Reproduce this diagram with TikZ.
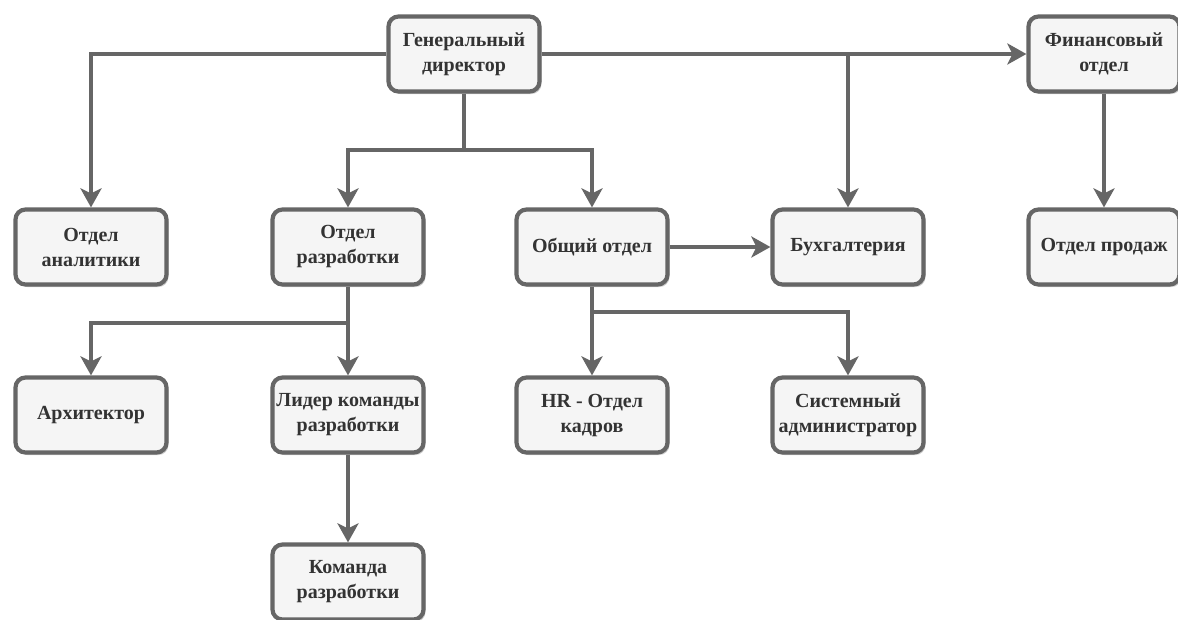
\documentclass[tikz,border=0pt]{standalone}
\usepackage{fontspec}
\setmainfont{Liberation Serif}
\usetikzlibrary{arrows.meta,shadows}
\definecolor{linec}{HTML}{666666}
\definecolor{boxfill}{HTML}{F5F5F5}
\definecolor{textc}{HTML}{333333}
\begin{document}
\begin{tikzpicture}[x=1pt,y=-1pt,
  box/.style={draw=linec, line width=4.2pt, fill=boxfill, rounded corners=10pt,
    minimum width=151pt, minimum height=75pt, inner sep=1pt, align=center,
    font=\bfseries\fontsize{20}{25}\selectfont, text=textc,
    drop shadow={opacity=0.2, shadow xshift=2pt, shadow yshift=-2.5pt, fill=black}},
  conn/.style={draw=linec, line width=3.8pt,
    -{Stealth[length=19pt,width=21pt,inset=5pt]}}]
\clip (0,0) rectangle (1178,619);
\fill[white] (0,0) rectangle (1178,619);

\node[box] (gd)   at (464,54)  {Генеральный\\директор};
\node[box] (fin)  at (1104,54) {Финансовый\\отдел};
\node[box] (anal) at (91,247)  {Отдел\\аналитики};
\node[box] (razr) at (348,247) {Отдел\\разработки};
\node[box] (obsh) at (592,247) {Общий отдел};
\node[box] (buh)  at (848,247) {Бухгалтерия};
\node[box] (prod) at (1104,247) {Отдел продаж};
\node[box] (arch) at (91,415)  {Архитектор};
\node[box] (lider) at (348,415) {Лидер команды\\разработки};
\node[box] (hr)   at (592,415) {HR - Отдел\\кадров};
\node[box] (sys)  at (848,415) {Системный\\администратор};
\node[box] (kom)  at (348,582) {Команда\\разработки};

\coordinate (j1) at (464,150);
\coordinate (j2) at (348,323);
\coordinate (j3) at (592,312);

\draw[conn] (gd.west) -| (anal.north);
\draw[conn] (gd.south) -- (j1) -| (razr.north);
\draw[conn] (j1) -| (obsh.north);
\draw[conn] (gd.east) -- (fin.west);
\draw[conn] (gd.east) -| (buh.north);
\draw[conn] (fin.south) -- (prod.north);
\draw[conn] (obsh.east) -- (buh.west);
\draw[conn] (razr.south) -- (j2) -| (arch.north);
\draw[conn] (j2) -- (lider.north);
\draw[conn] (obsh.south) -- (j3) -| (sys.north);
\draw[conn] (j3) -- (hr.north);
\draw[conn] (lider.south) -- (kom.north);
\end{tikzpicture}
\end{document}
